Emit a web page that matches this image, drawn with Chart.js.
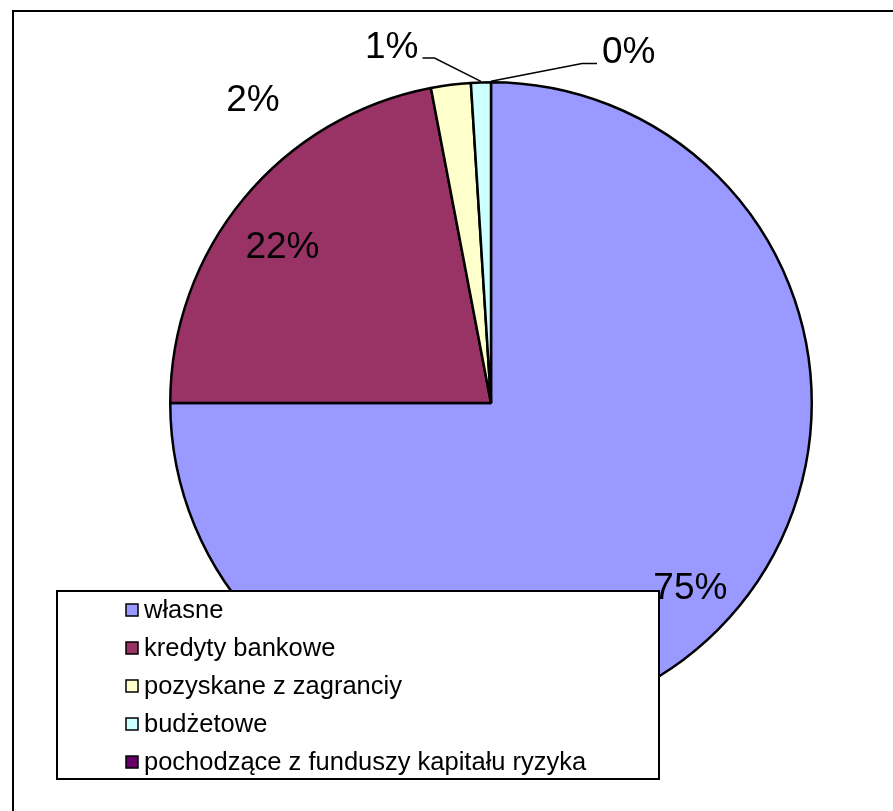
<!DOCTYPE html>
<html>
<head>
<meta charset="utf-8">
<script src="https://cdn.jsdelivr.net/npm/chart.js@4"></script>
<style>
  html, body { margin: 0; padding: 0; background: #fff; overflow: hidden; }
  #frame {
    position: absolute; left: 12px; top: 10px; width: 1000px; height: 1000px;
    border-left: 2px solid #000; border-top: 2px solid #000;
  }
  #c { position: absolute; left: 0; top: 0; }
</style>
</head>
<body>
<div id="frame"></div>
<canvas id="c" width="893" height="811"></canvas>
<script>
const categories = [
  "własne",
  "kredyty bankowe",
  "pozyskane z zagranciy",
  "budżetowe",
  "pochodzące z funduszy kapitału ryzyka",
];
const shares = [75, 22, 2, 1, 0];
const colors = ["#9999FF", "#993366", "#FFFFCC", "#CCFFFF", "#660066"];

// where each percent label goes: angle shift (deg) from the slice middle,
// distance as a share of the radius, and an optional leader line
const labelPlacement = [
  { shift: -2, dist: 0.85 },
  { shift: -3, dist: 0.81 },
  { shift: -31, dist: 1.2 },
  { shift: -7.5, dist: 1.09, leader: -12 },
  { shift: 15, dist: 1.096, leader: 15 },
];

const FONT = "'Liberation Sans', Arial, sans-serif";

const percentLabels = {
  id: "percentLabels",
  afterDatasetsDraw(chart) {
    const { ctx } = chart;
    const arcs = chart.getDatasetMeta(0).data;
    const total = shares.reduce((a, b) => a + b, 0);

    ctx.save();
    ctx.fillStyle = "#000";
    ctx.strokeStyle = "#000";
    ctx.lineWidth = 1.5;
    ctx.font = `37px ${FONT}`;

    arcs.forEach((arc, i) => {
      const { x, y, startAngle, endAngle, outerRadius } = arc.getProps(
        ["x", "y", "startAngle", "endAngle", "outerRadius"],
        true
      );
      const text = Math.round((shares[i] / total) * 100) + "%";
      const p = labelPlacement[i];
      const mid = (startAngle + endAngle) / 2;
      const ang = mid + (p.shift * Math.PI) / 180;
      const r = outerRadius + 1;

      if (p.leader) {
        const sx = x + Math.cos(mid) * r;
        const sy = y + Math.sin(mid) * r;
        const ex = x + Math.cos(ang) * outerRadius * p.dist;
        const ey = y + Math.sin(ang) * outerRadius * p.dist;
        const hx = ex + p.leader;
        ctx.beginPath();
        ctx.moveTo(sx, sy);
        ctx.lineTo(ex, ey);
        ctx.lineTo(hx, ey);
        ctx.stroke();
        ctx.textBaseline = "alphabetic";
        ctx.textAlign = p.leader < 0 ? "right" : "left";
        ctx.fillText(text, hx + (p.leader < 0 ? -4 : 5), ey);
      } else {
        ctx.textBaseline = "middle";
        ctx.textAlign = "center";
        ctx.fillText(
          text,
          x + Math.cos(ang) * outerRadius * p.dist,
          y + Math.sin(ang) * outerRadius * p.dist
        );
      }
    });
    ctx.restore();
  },
};

const boxLegend = {
  id: "boxLegend",
  afterDraw(chart) {
    const { ctx } = chart;
    const box = { x: 57, y: 591, w: 602, h: 188 };

    ctx.save();
    ctx.fillStyle = "#fff";
    ctx.fillRect(box.x, box.y, box.w, box.h);
    ctx.lineWidth = 2;
    ctx.strokeStyle = "#000";
    ctx.strokeRect(box.x, box.y, box.w, box.h);

    ctx.font = `25.5px ${FONT}`;
    ctx.textBaseline = "middle";
    ctx.textAlign = "left";
    categories.forEach((name, i) => {
      const cy = 610 + i * 38;
      ctx.fillStyle = colors[i];
      ctx.fillRect(126, cy - 6, 12, 12);
      ctx.lineWidth = 1.5;
      ctx.strokeRect(126, cy - 6, 12, 12);
      ctx.fillStyle = "#000";
      ctx.fillText(name, 144, cy + 1);
    });
    ctx.restore();
  },
};

new Chart(document.getElementById("c"), {
  type: "pie",
  data: {
    labels: categories,
    datasets: [
      {
        data: shares,
        backgroundColor: colors,
        borderColor: "#000",
        borderWidth: 2.5,
      },
    ],
  },
  options: {
    responsive: false,
    animation: false,
    layout: {
      padding: { left: 169, right: 80, top: 81, bottom: 86 },
    },
    plugins: {
      legend: { display: false },
      tooltip: { enabled: false },
    },
  },
  plugins: [percentLabels, boxLegend],
});
</script>
</body>
</html>
